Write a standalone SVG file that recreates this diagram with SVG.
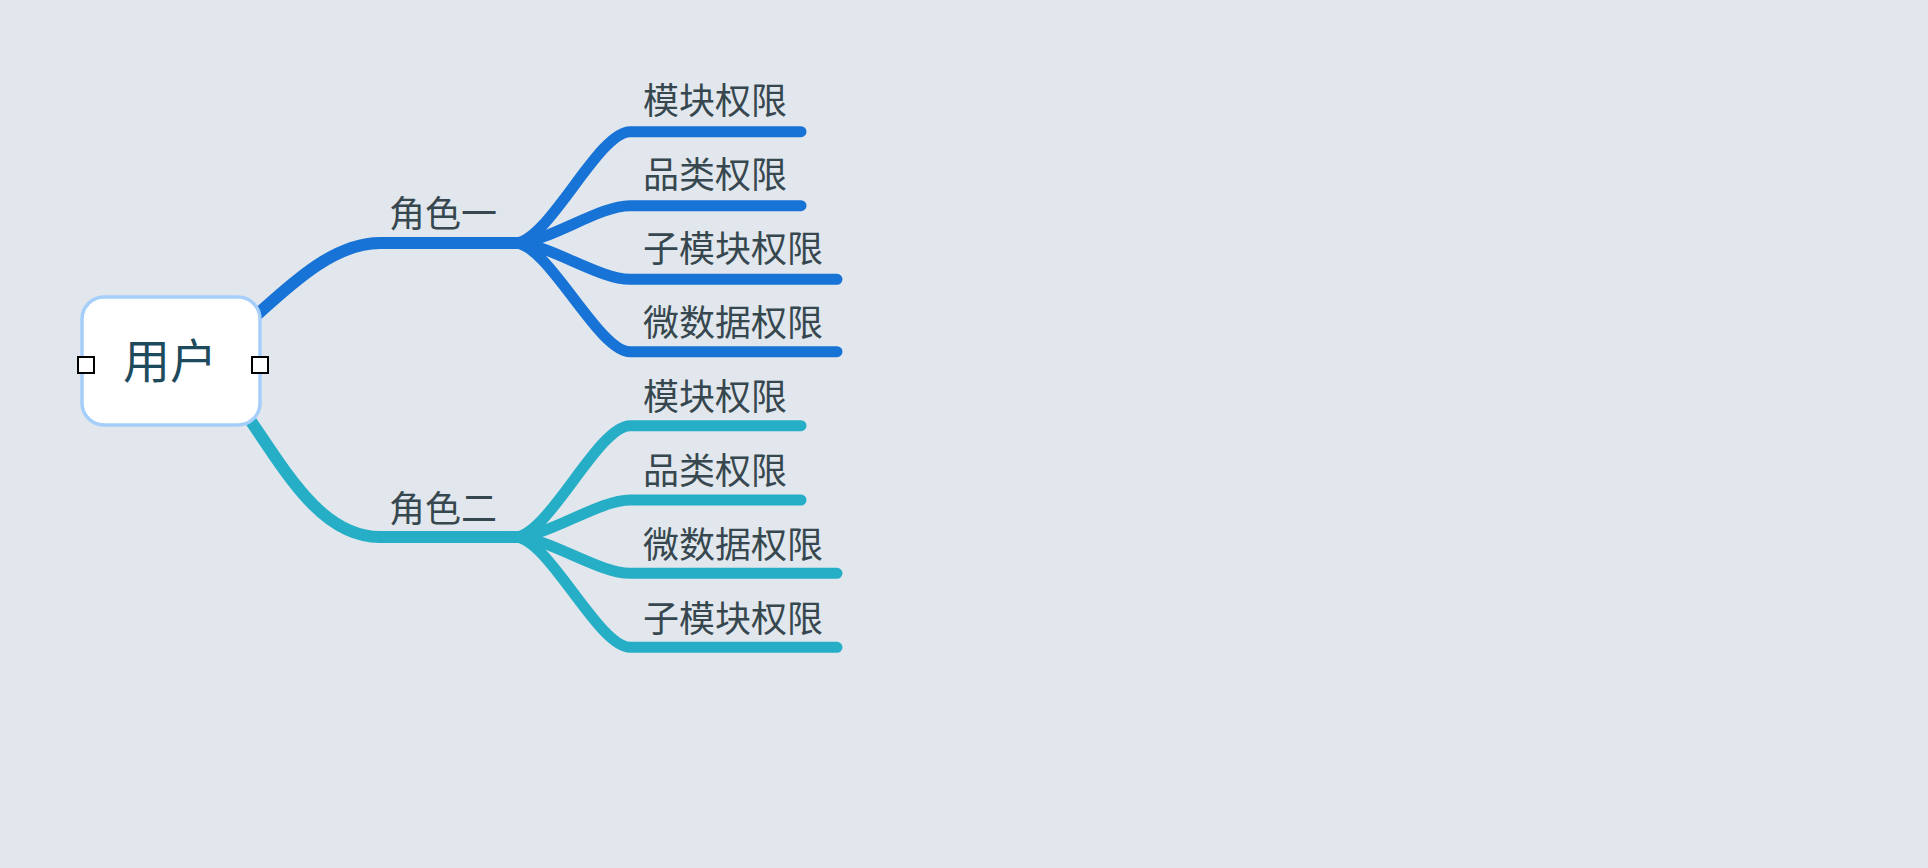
<svg xmlns="http://www.w3.org/2000/svg" width="1928" height="868" viewBox="0 0 1928 868">
<style>
.bg{fill:#e1e7ec}
.l{fill:none;stroke-linecap:round;stroke-linejoin:round}
.b1{stroke:#1873d6}
.b2{stroke:#27aec7}
.main{stroke-width:12}
.sub{stroke-width:11}
.t{font-family:"Noto Sans CJK SC","Noto Sans",sans-serif;fill:#37474f;font-size:36px}
.root{fill:#ffffff;stroke:#a6cefa;stroke-width:3.5}
.rt{font-family:"Noto Sans CJK SC","Noto Sans",sans-serif;fill:#1e4a5e;font-size:47px}
.h{fill:#ffffff;stroke:#000000;stroke-width:2}
</style>
<rect class="bg" x="0" y="0" width="1928" height="868"/>
<g id="connectors">
<path class="l b1 main" d="M240 330 C285 290 330 243 380 243 L515 243"/>
<path class="l b2 main" d="M240 405 C285 470 320 537 380 537 L515 537"/>
<path class="l b1 sub" d="M515 243 C548 243 598 131.7 630 131.7 L801 131.7"/>
<path class="l b1 sub" d="M515 243 C548 243 598 205.7 630 205.7 L801 205.7"/>
<path class="l b1 sub" d="M515 243 C548 243 598 279.3 630 279.3 L837 279.3"/>
<path class="l b1 sub" d="M515 243 C548 243 598 351.7 630 351.7 L837 351.7"/>
<path class="l b2 sub" d="M515 537 C548 537 598 425.7 630 425.7 L801 425.7"/>
<path class="l b2 sub" d="M515 537 C548 537 598 500 630 500 L801 500"/>
<path class="l b2 sub" d="M515 537 C548 537 598 573.3 630 573.3 L837 573.3"/>
<path class="l b2 sub" d="M515 537 C548 537 598 647.3 630 647.3 L837 647.3"/>
</g>
<g id="root">
<rect class="root" x="82" y="297" width="178" height="128" rx="22" ry="22"/>
<text class="rt" x="170" y="378" text-anchor="middle">用户</text>
<rect class="h" x="78" y="357" width="16" height="16"/>
<rect class="h" x="252" y="357" width="16" height="16"/>
</g>
<g id="role1"><text class="t" x="443" y="227" text-anchor="middle">角色一</text></g>
<g id="role2"><text class="t" x="443" y="522" text-anchor="middle">角色二</text></g>
<g id="r1c1"><text class="t" x="643" y="114">模块权限</text></g>
<g id="r1c2"><text class="t" x="643" y="187.5">品类权限</text></g>
<g id="r1c3"><text class="t" x="643" y="261.5">子模块权限</text></g>
<g id="r1c4"><text class="t" x="643" y="336">微数据权限</text></g>
<g id="r2c1"><text class="t" x="643" y="410">模块权限</text></g>
<g id="r2c2"><text class="t" x="643" y="484">品类权限</text></g>
<g id="r2c3"><text class="t" x="643" y="558">微数据权限</text></g>
<g id="r2c4"><text class="t" x="643" y="631.5">子模块权限</text></g>
</svg>
